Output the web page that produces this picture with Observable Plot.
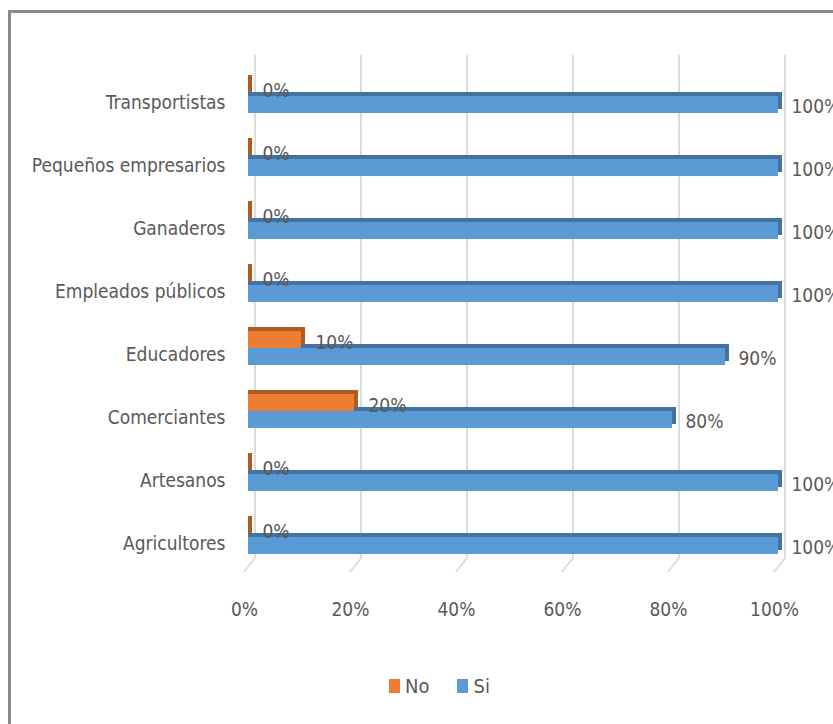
<!DOCTYPE html>
<html><head><meta charset="utf-8">
<script src="https://cdn.jsdelivr.net/npm/d3@7"></script>
<script src="https://cdn.jsdelivr.net/npm/@observablehq/plot@0.6"></script>
<style>
body{margin:0;background:#fff;overflow:hidden;font-family:"Liberation Sans Narrow","DejaVu Sans Condensed",sans-serif;}
#frame{position:absolute;left:8px;top:10px;width:900px;height:800px;border-left:3px solid #8a8a8a;border-top:3px solid #8a8a8a;}
#chart{position:absolute;left:0;top:0;}
#legend{position:absolute;top:673px;left:389px;display:flex;align-items:center;font-size:20px;color:#595959;line-height:26px;}
.sw{display:inline-block;width:11px;height:14px;margin-right:5px;}
.item{display:flex;align-items:center;margin-right:28px;}
</style></head><body>
<div id="frame"></div>
<div id="chart"></div>
<div id="legend"></div>
<script>
const categories = ["Transportistas","Pequeños empresarios","Ganaderos","Empleados públicos","Educadores","Comerciantes","Artesanos","Agricultores"];
const noValues = [0,0,0,0,10,20,0,0];
const siValues = [100,100,100,100,90,80,100,100];
const xTicks = [0,20,40,60,80,100];
const seriesNames = ["No","Si"];
const seriesColors = ["#ED7D31","#5B9BD5"];
const seriesShade = ["#AE5A21","#44739F"];

const noData = categories.map((c,i)=>({cat:c, value:noValues[i]}));
const siData = categories.map((c,i)=>({cat:c, value:siValues[i]}));

const FONT = "Liberation Sans Narrow, DejaVu Sans Condensed, sans-serif";
const TXT = "#595959";
const FS = 19;
const half = 17;
const depth = 4;
const ns = "http://www.w3.org/2000/svg";

function gridMark(index, scales, values, dimensions) {
  const g = document.createElementNS(ns, "g");
  const top = dimensions.marginTop + 5;
  const bottom = dimensions.height - dimensions.marginBottom - 25;
  const foot = dimensions.height - dimensions.marginBottom - 11;
  for (const t of xTicks) {
    const x = scales.x(t);
    const p = document.createElementNS(ns, "path");
    p.setAttribute("d", `M${x+7},${top}V${bottom}L${x-4},${foot}`);
    p.setAttribute("fill", "none");
    p.setAttribute("stroke", "#dcdcdc");
    p.setAttribute("stroke-width", "2");
    g.appendChild(p);
  }
  return g;
}

const chart = Plot.plot({
  width: 833,
  height: 640,
  marginLeft: 248,
  marginRight: 55,
  marginTop: 50,
  marginBottom: 57,
  style: {fontFamily: FONT, fontSize: FS + "px", background: "transparent", color: TXT},
  x: {domain: [0, 100]},
  y: {domain: categories, padding: 0.46},
  marks: [
    gridMark,
    // Si bars (3D: shaded back + front face)
    Plot.barX(siData, {x: "value", y: "cat", fill: seriesShade[1], dx: depth, dy: -depth, insetLeft: -depth, insetTop: half}),
    Plot.barX(siData, {x: "value", y: "cat", fill: seriesColors[1], insetTop: half}),
    // No bars
    Plot.barX(noData, {x: "value", y: "cat", fill: seriesShade[0], dx: depth, dy: -depth, insetLeft: -depth, insetBottom: half}),
    Plot.barX(noData, {x: "value", y: "cat", fill: seriesColors[0], insetBottom: half}),
    // labels
    Plot.text(noData, {x: "value", y: "cat", text: d => d.value + "%", dx: 14, dy: -half/2 + 2.5, textAnchor: "start", fill: TXT, fontSize: FS}),
    Plot.text(siData, {x: "value", y: "cat", text: d => d.value + "%", dx: 13, dy: half/2 + 2, textAnchor: "start", fill: TXT, fontSize: FS}),
    Plot.axisY({tickSize: 0, tickPadding: 23, dy: 6, fontSize: FS, color: TXT, label: null}),
    Plot.axisX({ticks: xTicks, tickFormat: d => d + "%", tickSize: 0, tickPadding: 19, dx: -4, fontSize: FS, color: TXT, label: null})
  ]
});
document.getElementById("chart").appendChild(chart);

const legend = document.getElementById("legend");
seriesNames.forEach((n, i) => {
  const item = document.createElement("span");
  item.className = "item";
  const sw = document.createElement("span");
  sw.className = "sw";
  sw.style.background = seriesColors[i];
  item.appendChild(sw);
  item.appendChild(document.createTextNode(n));
  legend.appendChild(item);
});
</script>
</body></html>
